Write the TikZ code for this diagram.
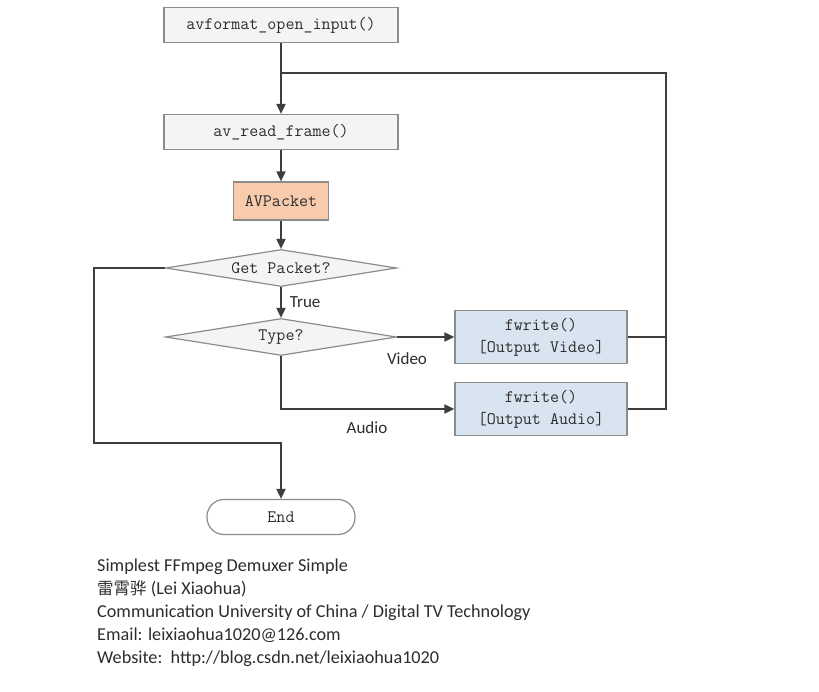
\documentclass[tikz,border=0pt]{standalone}
\usepackage{fontspec}
\setsansfont{Carlito}
\newfontfamily\cjkfont{Noto Sans CJK SC}
\usepackage{xcolor}
\usetikzlibrary{arrows.meta,shapes.geometric,positioning}
\definecolor{boxgray}{RGB}{244,244,244}
\definecolor{edgegray}{RGB}{140,140,140}
\definecolor{linegray}{RGB}{62,62,62}
\definecolor{pktorange}{RGB}{248,203,173}
\definecolor{outblue}{RGB}{216,229,241}
\definecolor{textgray}{RGB}{45,45,45}
\tikzset{
  func/.style = {draw = edgegray, line width = 1.2pt, fill = boxgray, text = textgray, font = \ttfamily\fontsize{17.5}{20}\selectfont, minimum width = 234pt, minimum height = 35pt, inner sep = 0pt},
  packet/.style = {func, fill = pktorange, minimum width = 95pt, minimum height = 38pt},
  outbox/.style = {func, fill = outblue, align = center, minimum width = 172pt, minimum height = 53pt, font = \ttfamily\fontsize{17.5}{22}\selectfont},
  decide/.style = {diamond, draw = edgegray, line width = 1.2pt, fill = boxgray, text = textgray, font = \ttfamily\fontsize{17.5}{20}\selectfont, shape aspect = 6.2, minimum width = 231pt, minimum height = 37pt, inner sep = 0pt},
  terminal/.style = {func, fill = white, rounded corners = 17pt, minimum width = 148pt, minimum height = 35pt},
  flow/.style = {draw = linegray, line width = 1.8pt},
  tip/.style = {flow, -{Triangle[length = 10pt, width = 9pt]}},
  lbl/.style = {font = \sffamily\fontsize{17}{20}\selectfont, text = textgray, inner sep = 0pt}
}
\begin{document}
\begin{tikzpicture}[x = 1pt, y = -1pt]
    \fill[white] (0,0) rectangle (819,692);
    \useasboundingbox (0,0) rectangle (819,692);
    % Boxes
    \node[func] (open) at (281,25) {avformat\_open\_input()};
    \node[func] (read) at (281,132) {av\_read\_frame()};
    \node[packet] (pkt) at (281,201) {AVPacket};
    \node[decide] (get) at (281,268) {Get Packet?};
    \node[decide] (type) at (281,337) {Type?};
    \node[outbox] (video) at (541,337) {fwrite()\\{[Output Video]}};
    \node[outbox] (audio) at (541,409) {fwrite()\\{[Output Audio]}};
    \node[terminal] (end) at (281,517) {End};
    \coordinate (join) at (281,73);
    \coordinate (loopR) at (666,73);
    \coordinate (exitL) at (94,443);
    % Main line
    \draw[tip] (open) -- (read);
    \draw[tip] (read) -- (pkt);
    \draw[tip] (pkt) -- (get);
    \draw[tip] (get) -- node[lbl, right = 8pt, pos = .5] (true) {True} (type);
    \draw[tip] (type.east) -- (video.west);
    \draw[tip] (type.south) |- (audio.west);
    \node[lbl] (vlbl) at (407,359) {Video};
    \node[lbl] (albl) at (367,428) {Audio};
    % Back to reading
    \draw[flow] (video.east) -- (video.east -| loopR);
    \draw[flow] (audio.east) -| (loopR) -- (join);
    % No packet
    \draw[tip] (get.west) -| (exitL) -| (end.north);
    % Credits
    \node[anchor = north west, align = left, inner sep = 0pt, text = textgray, font = \sffamily\fontsize{18.2}{22.8}\selectfont] (info) at (97,559)
      {Simplest FFmpeg Demuxer Simple\\
       {\cjkfont\fontsize{16.5}{22.8}\selectfont 雷霄骅} (Lei Xiaohua)\\
       Communication University of China / Digital TV Technology\\
       Email: leixiaohua1020@126.com\\
       Website:\ \ http://blog.csdn.net/leixiaohua1020};
\end{tikzpicture}
\end{document}
